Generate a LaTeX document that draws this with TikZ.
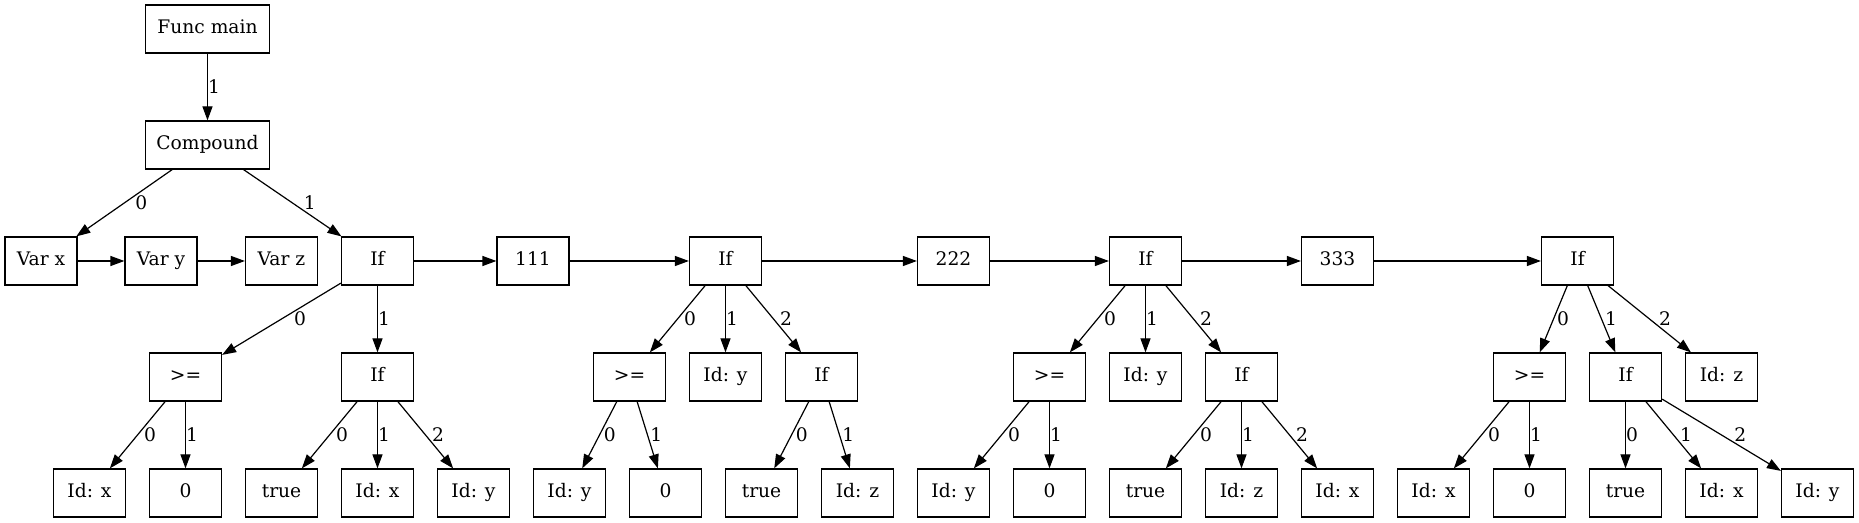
\documentclass[tikz,border=0pt]{standalone}
\usepackage{fontspec}
\setmainfont{DejaVu Serif}
\usetikzlibrary{arrows.meta}

\begin{document}
\begin{tikzpicture}[x=0.75pt,y=-0.75pt,
	doos/.style={draw,line width=0.9pt,minimum width=54pt,minimum height=36pt,inner sep=0pt,text height=10.5pt,text depth=3.3pt,font=\fontsize{14}{17}\selectfont},
	breed/.style={doos,minimum width=93pt},
	pijl/.style={line width=0.9pt,-{Triangle[length=10.5pt,width=7.5pt]}},
	lab/.style={anchor=west,inner sep=0pt,xshift=#1*5.5pt,font=\fontsize{14}{17}\selectfont},
	lab/.default=0]
		\useasboundingbox (0,0) rectangle (1859,523);
		\node[breed] (F) at (207.5,29) {Func main};
		\node[breed] (C) at (207.5,145) {Compound};
		\node[doos] (VX) at (41,261) {Var x};
		\node[doos] (VY) at (161,261) {Var y};
		\node[doos] (VZ) at (281.5,261) {Var z};
		\node[doos] (I1) at (377.5,261) {If};
		\node[doos] (N1) at (533,261) {111};
		\node[doos] (I2) at (725.5,261) {If};
		\node[doos] (N2) at (953.5,261) {222};
		\node[doos] (I3) at (1145.5,261) {If};
		\node[doos] (N3) at (1337.5,261) {333};
		\node[doos] (I4) at (1577.5,261) {If};
		\node[doos] (G1) at (185.5,377) {>=};
		\node[doos] (J1) at (377.5,377) {If};
		\node[doos] (G2) at (629.5,377) {>=};
		\node[doos] (Y2) at (725.5,377) {Id: y};
		\node[doos] (J2) at (821.5,377) {If};
		\node[doos] (G3) at (1049.5,377) {>=};
		\node[doos] (Y3) at (1145.5,377) {Id: y};
		\node[doos] (J3) at (1241.5,377) {If};
		\node[doos] (G4) at (1529.5,377) {>=};
		\node[doos] (J4) at (1625.5,377) {If};
		\node[doos] (Z4) at (1721.5,377) {Id: z};
		\node[doos] (L0) at (89.5,493) {Id: x};
		\node[doos] (L1) at (185.5,493) {0};
		\node[doos] (L2) at (281.5,493) {true};
		\node[doos] (L3) at (377.5,493) {Id: x};
		\node[doos] (L4) at (473.5,493) {Id: y};
		\node[doos] (L5) at (569.5,493) {Id: y};
		\node[doos] (L6) at (665.5,493) {0};
		\node[doos] (L7) at (761.5,493) {true};
		\node[doos] (L8) at (857.5,493) {Id: z};
		\node[doos] (L9) at (953.5,493) {Id: y};
		\node[doos] (L10) at (1049.5,493) {0};
		\node[doos] (L11) at (1145.5,493) {true};
		\node[doos] (L12) at (1241.5,493) {Id: z};
		\node[doos] (L13) at (1337.5,493) {Id: x};
		\node[doos] (L14) at (1433.5,493) {Id: x};
		\node[doos] (L15) at (1529.5,493) {0};
		\node[doos] (L16) at (1625.5,493) {true};
		\node[doos] (L17) at (1721.5,493) {Id: x};
		\node[doos] (L18) at (1817.5,493) {Id: y};
		\draw[pijl] (F) -- node[lab] {1} (C);
		\draw[pijl] (C) -- node[lab=1.435] {0} (VX);
		\draw[pijl] (C) -- node[lab=1.466] {1} (I1);
		\draw[pijl] (VX) -- (VY);
		\draw[pijl] (VY) -- (VZ);
		\draw[pijl] (I1) -- (N1);
		\draw[pijl] (N1) -- (I2);
		\draw[pijl] (I2) -- (N2);
		\draw[pijl] (N2) -- (I3);
		\draw[pijl] (I3) -- (N3);
		\draw[pijl] (N3) -- (I4);
		\draw[pijl] (I1) -- node[lab=1.655] {0} (G1);
		\draw[pijl] (I1) -- node[lab] {1} (J1);
		\draw[pijl] (G1) -- node[lab=0.83] {0} (L0);
		\draw[pijl] (G1) -- node[lab] {1} (L1);
		\draw[pijl] (J1) -- node[lab=0.83] {0} (L2);
		\draw[pijl] (J1) -- node[lab] {1} (L3);
		\draw[pijl] (J1) -- node[lab=0.83] {2} (L4);
		\draw[pijl] (I2) -- node[lab=0.83] {0} (G2);
		\draw[pijl] (I2) -- node[lab] {1} (Y2);
		\draw[pijl] (I2) -- node[lab=0.83] {2} (J2);
		\draw[pijl] (G2) -- node[lab=0.517] {0} (L5);
		\draw[pijl] (G2) -- node[lab=0.31] {1} (L6);
		\draw[pijl] (J2) -- node[lab=0.517] {0} (L7);
		\draw[pijl] (J2) -- node[lab=0.31] {1} (L8);
		\draw[pijl] (I3) -- node[lab=0.83] {0} (G3);
		\draw[pijl] (I3) -- node[lab] {1} (Y3);
		\draw[pijl] (I3) -- node[lab=0.83] {2} (J3);
		\draw[pijl] (G3) -- node[lab=0.83] {0} (L9);
		\draw[pijl] (G3) -- node[lab] {1} (L10);
		\draw[pijl] (J3) -- node[lab=0.83] {0} (L11);
		\draw[pijl] (J3) -- node[lab] {1} (L12);
		\draw[pijl] (J3) -- node[lab=0.83] {2} (L13);
		\draw[pijl] (I4) -- node[lab=0.414] {0} (G4);
		\draw[pijl] (I4) -- node[lab=0.414] {1} (J4);
		\draw[pijl] (I4) -- node[lab=1.241] {2} (Z4);
		\draw[pijl] (G4) -- node[lab=0.83] {0} (L14);
		\draw[pijl] (G4) -- node[lab] {1} (L15);
		\draw[pijl] (J4) -- node[lab] {0} (L16);
		\draw[pijl] (J4) -- node[lab=0.83] {1} (L17);
		\draw[pijl] (J4) -- node[lab=1.655] {2} (L18);
	\end{tikzpicture}
\end{document}
